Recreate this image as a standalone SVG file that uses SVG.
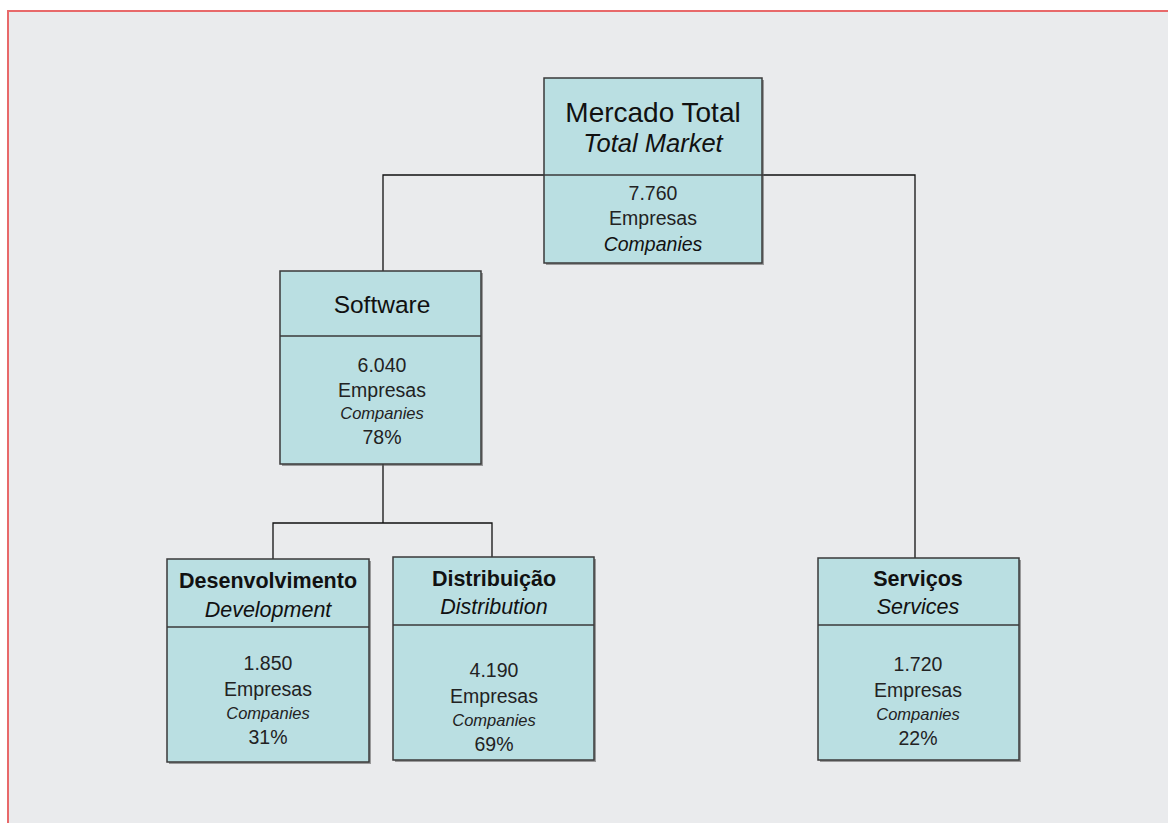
<svg xmlns="http://www.w3.org/2000/svg" width="1168" height="823" viewBox="0 0 1168 823">
  <defs>
    <style>
      .frame { fill: #eaebed; stroke: #e8696a; stroke-width: 2; }
      .box { fill: #badfe2; stroke: #3a3a3a; stroke-width: 1.5; }
      .shadow { fill: #555; opacity: 0.55; }
      .div { stroke: #3a3a3a; stroke-width: 1.5; }
      .wire { fill: none; stroke: #111; stroke-width: 1.3; }
      text { font-family: "Liberation Sans", Arial, sans-serif; fill: #111; text-anchor: middle; }
      .it { font-style: italic; }
      .bd { font-weight: bold; }
      .num { font-size: 19.5px; fill: #222; }
      .sm { font-size: 16.5px; font-style: italic; fill: #222; }
    </style>
  </defs>

  <!-- page background and frame -->
  <rect x="0" y="0" width="1168" height="823" fill="#ffffff"/>
  <rect class="frame" x="8" y="11" width="1170" height="830"/>

  <!-- connectors -->
  <g id="connectors">
    <path class="wire" d="M383 271 V175 H915 V558"/>
    <path class="wire" d="M383 464 V523 M273 559 V523 H492 V557"/>
  </g>

  <!-- total market -->
  <g id="node-total">
    <rect class="shadow" x="546" y="80" width="218" height="185"/>
    <rect class="box" x="544" y="78" width="218" height="185"/>
    <line class="div" x1="544" y1="175" x2="762" y2="175"/>
    <text x="653" y="122" font-size="28">Mercado Total</text>
    <text x="653" y="152" font-size="25.5" class="it">Total Market</text>
    <text x="653" y="200" class="num" font-size="20">7.760</text>
    <text x="653" y="225" class="num" font-size="20">Empresas</text>
    <text x="653" y="251" font-size="19.5" class="it" fill="#222">Companies</text>
  </g>

  <!-- software -->
  <g id="node-software">
    <rect class="shadow" x="282" y="273" width="201" height="193"/>
    <rect class="box" x="280" y="271" width="201" height="193"/>
    <line class="div" x1="280" y1="336" x2="481" y2="336"/>
    <text x="382" y="313" font-size="24.5">Software</text>
    <text x="382" y="372" class="num">6.040</text>
    <text x="382" y="397" class="num">Empresas</text>
    <text x="382" y="419" class="sm">Companies</text>
    <text x="382" y="444" class="num">78%</text>
  </g>

  <!-- development -->
  <g id="node-development">
    <rect class="shadow" x="169" y="561" width="202" height="203"/>
    <rect class="box" x="167" y="559" width="202" height="203"/>
    <line class="div" x1="167" y1="627" x2="369" y2="627"/>
    <text x="268" y="588" font-size="21.5" class="bd">Desenvolvimento</text>
    <text x="268" y="617" font-size="21.5" class="it">Development</text>
    <text x="268" y="670" class="num">1.850</text>
    <text x="268" y="696" class="num">Empresas</text>
    <text x="268" y="719" class="sm">Companies</text>
    <text x="268" y="744" class="num">31%</text>
  </g>

  <!-- distribution -->
  <g id="node-distribution">
    <rect class="shadow" x="395" y="559" width="201" height="203"/>
    <rect class="box" x="393" y="557" width="201" height="203"/>
    <line class="div" x1="393" y1="625" x2="594" y2="625"/>
    <text x="494" y="586" font-size="21.5" class="bd">Distribuição</text>
    <text x="494" y="614" font-size="21.5" class="it">Distribution</text>
    <text x="494" y="677" class="num">4.190</text>
    <text x="494" y="703" class="num">Empresas</text>
    <text x="494" y="726" class="sm">Companies</text>
    <text x="494" y="751" class="num">69%</text>
  </g>

  <!-- services -->
  <g id="node-services">
    <rect class="shadow" x="820" y="560" width="201" height="202"/>
    <rect class="box" x="818" y="558" width="201" height="202"/>
    <line class="div" x1="818" y1="625" x2="1019" y2="625"/>
    <text x="918" y="586" font-size="21.5" class="bd">Serviços</text>
    <text x="918" y="614" font-size="21.5" class="it">Services</text>
    <text x="918" y="671" class="num">1.720</text>
    <text x="918" y="697" class="num">Empresas</text>
    <text x="918" y="720" class="sm">Companies</text>
    <text x="918" y="745" class="num">22%</text>
  </g>
</svg>
